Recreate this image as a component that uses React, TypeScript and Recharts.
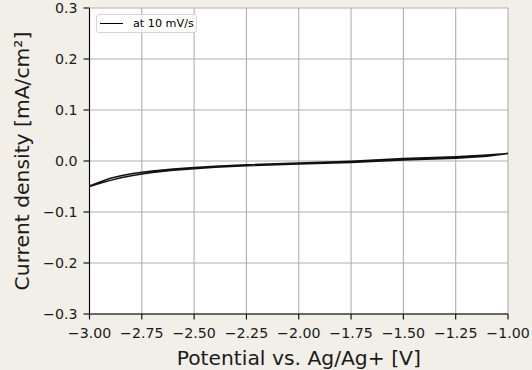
import React from "react";
import { LineChart, Line, XAxis, YAxis, CartesianGrid, Label } from "recharts";

const potential: number[] = [
  -3.0, -2.95, -2.9, -2.85, -2.8, -2.75, -2.7, -2.6, -2.5, -2.4, -2.25, -2.0, -1.75, -1.5, -1.25, -1.1, -1.0,
  -1.1, -1.25, -1.5, -1.75, -2.0, -2.25, -2.4, -2.5, -2.6, -2.7, -2.75, -2.8, -2.85, -2.9, -2.95, -3.0,
];
const currentDensity: number[] = [
  -0.05, -0.0435, -0.038, -0.033, -0.029, -0.0255, -0.0225, -0.018, -0.015, -0.0125, -0.0095, -0.006, -0.003, 0.002, 0.0055, 0.0092, 0.0145,
  0.0118, 0.0085, 0.0048, -0.0005, -0.004, -0.0075, -0.0105, -0.0125, -0.0155, -0.0195, -0.022, -0.025, -0.029, -0.034, -0.041, -0.049,
];
const xTicks: number[] = [-3.0, -2.75, -2.5, -2.25, -2.0, -1.75, -1.5, -1.25, -1.0];
const yTicks: number[] = [-0.3, -0.2, -0.1, 0.0, 0.1, 0.2, 0.3];
const seriesName = "at 10 mV/s";

const data = potential.map((v, i) => ({ v, j: currentDensity[i] }));

const FONT = "'DejaVu Sans', sans-serif";
const TICK_SIZE = 14.2;
const LABEL_SIZE = 20.3;
const fmt = (n: number, d: number) => {
  const s = Math.abs(n).toFixed(d);
  return n < -1e-9 ? "\u2212" + s : s;
};

const tickStyle: React.CSSProperties = { fontSize: `${TICK_SIZE}px`, fontFamily: FONT, fill: "#1a1a1a" };

const XTick = (props: any) => {
  const { x, y, payload } = props;
  return (
    <text x={x} y={y + TICK_SIZE * 0.72} textAnchor="middle" style={tickStyle}>
      {fmt(payload.value, 2)}
    </text>
  );
};

const YTick = (props: any) => {
  const { x, y, payload } = props;
  return (
    <text x={x} y={y + TICK_SIZE * 0.36} textAnchor="end" style={tickStyle}>
      {fmt(payload.value, 1)}
    </text>
  );
};

const LegendBox = () => (
  <div
    style={{
      position: "absolute",
      left: 96,
      top: 14,
      display: "flex",
      alignItems: "center",
      background: "rgba(255,255,255,0.8)",
      border: "1px solid #d5d5d5",
      borderRadius: 3,
      width: 99,
      height: 17,
      boxSizing: "content-box",
      fontFamily: FONT,
      fontSize: 11.2,
      color: "#000",
    }}
  >
    <div style={{ width: 23, height: 0, borderTop: "1.3px solid #000", marginLeft: 3, marginRight: 10 }} />
    <span style={{ whiteSpace: "nowrap" }}>{seriesName}</span>
  </div>
);

export default function App() {
  return (
    <div style={{ position: "fixed", left: 0, top: 0, width: 532, height: 370, background: "#f2efe8" }}>
      <LineChart width={532} height={370} data={data} margin={{ top: 8, right: 24, left: 0, bottom: 0 }}>
        <CartesianGrid stroke="#b0b0b0" strokeWidth={1.1} horizontal vertical fill="#ffffff" fillOpacity={1} />
        <XAxis
          type="number"
          dataKey="v"
          domain={[-3, -1]}
          ticks={xTicks}
          allowDataOverflow
          height={56}
          stroke="#000"
          strokeWidth={1.1}
          tickSize={5.5}
          tickMargin={8}
          tick={(p: any) => <XTick {...p} />}
          interval={0}
        >
          <Label
            value="Potential vs. Ag/Ag+ [V]"
            position="insideBottom"
            offset={5}
            style={{ fontSize: LABEL_SIZE, fontFamily: FONT, fill: "#1a1a1a" }}
          />
        </XAxis>
        <YAxis
          type="number"
          dataKey="j"
          domain={[-0.3, 0.3]}
          ticks={yTicks}
          allowDataOverflow
          width={89.5}
          stroke="#000"
          strokeWidth={1.1}
          tickSize={6}
          tickMargin={6}
          tick={(p: any) => <YTick {...p} />}
          interval={0}
        >
          <Label
            content={(props: any) => {
              const vb = props.viewBox || { x: 0, y: 8, width: 89.5, height: 306 };
              const cx = vb.x + 28.5;
              const cy = vb.y + vb.height / 2;
              return (
                <text
                  transform={`translate(${cx},${cy}) rotate(-90)`}
                  textAnchor="middle"
                  style={{ fontSize: `${LABEL_SIZE}px`, fontFamily: FONT, fill: "#1a1a1a" }}
                >
                  Current density [mA/cm²]
                </text>
              );
            }}
          />
        </YAxis>
        <Line
          type="linear"
          dataKey="j"
          name={seriesName}
          stroke="#111"
          strokeWidth={1.5}
          dot={false}
          isAnimationActive={false}
        />
      </LineChart>
      <LegendBox />
    </div>
  );
}
